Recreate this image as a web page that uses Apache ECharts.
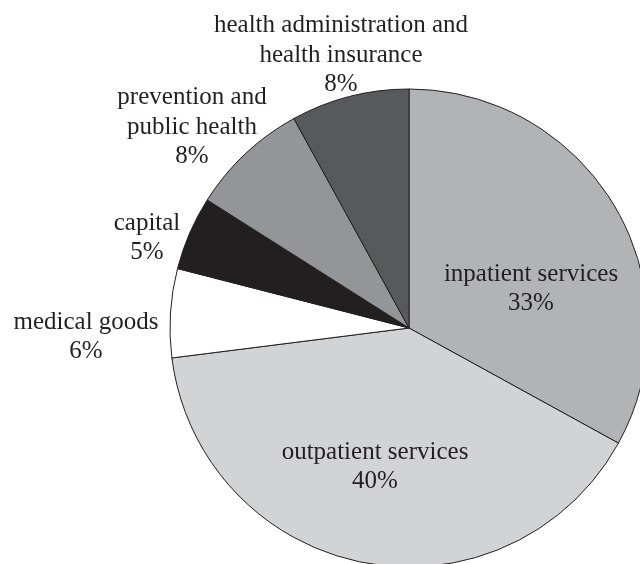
<!DOCTYPE html>
<html>
<head>
<meta charset="utf-8">
<script src="https://cdn.jsdelivr.net/npm/echarts@6/dist/echarts.min.js"></script>
<style>
  html, body { margin: 0; padding: 0; background: #fff; }
  #chart { width: 640px; height: 564px; }
</style>
</head>
<body>
<div id="chart"></div>
<script>
// Health spending by function, shares in percent (clockwise from 12 o'clock)
const categories = [
  'inpatient services',
  'outpatient services',
  'medical goods',
  'capital',
  'prevention and\npublic health',
  'health administration and\nhealth insurance'
];
const shares = [33, 40, 6, 5, 8, 8];
const sliceColors = ['#b1b3b5', '#d2d3d5', '#ffffff', '#231f20', '#939598', '#58595b'];

// Label anchor points (centre of each text block), in pixels
const labelAnchors = [
  [531, 289],
  [375, 467],
  [86, 337],
  [147, 238],
  [192, 127],
  [341, 55]
];

const chart = echarts.init(document.getElementById('chart'), null, { renderer: 'canvas' });

chart.setOption({
  animation: false,
  backgroundColor: '#ffffff',
  series: [{
    type: 'pie',
    center: [409, 328],
    radius: [0, 239],
    startAngle: 90,
    clockwise: true,
    avoidLabelOverlap: false,
    itemStyle: { borderColor: '#231f20', borderWidth: 1 },
    label: {
      show: true,
      position: 'inside',
      formatter: p => p.name + '\n' + p.value + '%',
      fontFamily: '"Liberation Serif", "DejaVu Serif", serif',
      fontSize: 25,
      lineHeight: 29.5,
      color: '#231f20',
      align: 'center'
    },
    labelLine: { show: false },
    labelLayout: params => {
      const a = labelAnchors[params.dataIndex];
      return { x: a[0], y: a[1], align: 'center', verticalAlign: 'middle' };
    },
    data: categories.map((name, i) => ({
      name: name,
      value: shares[i],
      itemStyle: { color: sliceColors[i] }
    }))
  }]
});
</script>
</body>
</html>
